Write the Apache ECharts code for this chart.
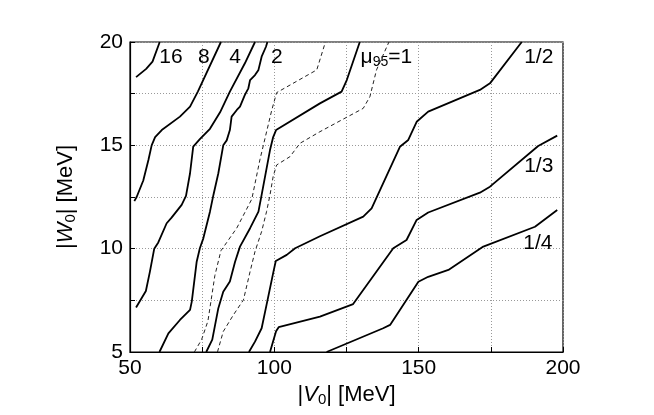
<!DOCTYPE html>
<html>
<head>
<meta charset="utf-8">
<script src="https://cdn.jsdelivr.net/npm/echarts@6/dist/echarts.min.js"></script>
<style>
  html, body { margin: 0; padding: 0; background: #fff; }
  #chart { width: 654px; height: 415px; }
</style>
</head>
<body>
<div id="chart"></div>
<script>
// contour lines, [|V0|, |W0|] in MeV
var c16 = [[52.1, 18.3], [55.6, 18.7], [57.8, 19.05], [60.3, 20]];
var c8 = [[51.5, 12.3], [52.3, 12.5], [54.6, 13.3], [56.4, 14.3], [57.5, 15.0], [58.7, 15.4],
	[61.0, 15.74], [67.3, 16.39], [70.8, 16.87], [73.5, 17.6], [81.5, 20]];
var c4 = [[52.1, 7.15], [55.5, 7.95], [56.9, 8.89], [58.4, 10.0], [59.8, 10.3], [62.7, 11.23],
	[64.4, 11.5], [67.9, 12.12], [69.4, 12.55], [70.8, 13.65], [71.9, 14.94], [74.2, 15.3],
	[77.7, 15.8], [81.2, 16.6], [84.6, 17.6], [89.8, 18.97], [93.3, 20]];
var c2 = [[60.2, 5.0], [63.3, 5.9], [67.3, 6.55], [70.8, 7.04], [71.4, 7.44], [73.1, 9.37],
	[74.2, 10.02], [75.4, 10.5], [77.7, 11.79], [78.9, 12.6], [80.6, 13.65], [82.3, 15.0],
	[83.5, 15.24], [84.6, 15.74], [85.2, 16.39], [87.0, 16.71], [88.1, 16.87], [89.8, 17.44],
	[91.0, 17.76], [91.6, 18.16], [93.3, 18.4], [94.5, 18.65], [95.6, 19.29], [97.1, 19.77], [97.6, 20]];
var c1 = [[76.4, 5.0], [78.5, 5.6], [80.6, 7.12], [82.3, 7.92], [84.6, 8.41], [86.4, 9.37],
	[88.1, 10.1], [91.6, 10.99], [94.5, 11.79], [95.6, 12.6], [98.5, 14.77], [99.6, 15.4],
	[100.6, 15.74], [115.8, 17.03], [123.3, 17.6], [125.1, 18.16], [129.6, 20]];
var c1lo = [[72.3, 5.0], [74.8, 5.6], [77.0, 6.5], [79.4, 8.7], [81.5, 9.9], [83.5, 10.3],
	[87.0, 11.0], [92.2, 12.4], [95.0, 14.3], [99.1, 16.7], [100.8, 17.55], [114.7, 18.65], [117.7, 20]];
var c1hi = [[80.3, 5.0], [82.3, 5.99], [85.8, 6.79], [89.3, 7.52], [91.6, 8.89], [93.3, 9.86],
	[95.6, 10.83], [97.3, 11.79], [98.5, 12.6], [99.6, 13.5], [100.8, 14.05], [105.4, 14.45],
	[108.9, 15.1], [115.8, 15.66], [130.8, 16.79], [133.1, 17.35], [135.4, 18.65], [139.7, 20]];
var cHalf = [[91.2, 5.0], [93.3, 5.5], [95.6, 6.15], [97.3, 7.28], [99.7, 8.89], [100.5, 9.4],
	[104.3, 9.7], [107.2, 10.02], [115.8, 10.6], [130.8, 11.55], [133.7, 11.95], [143.5, 14.93],
	[146.4, 15.26], [149.3, 16.14], [153.3, 16.63], [171.2, 17.68], [174.7, 18.0], [185.7, 20]];
var cThird = [[98.5, 5.0], [100.6, 6.0], [101.5, 6.2], [115.8, 6.71], [127.3, 7.32], [141.2, 10.02],
	[145.8, 10.42], [149.3, 11.39], [153.3, 11.75], [171.2, 12.71], [174.7, 13.0], [191.4, 14.97], [198, 15.47]];
var cQuarter = [[118.1, 5.0], [137.7, 6.15], [140.1, 6.31], [149.9, 8.4], [153.3, 8.64], [160.3, 8.97],
	[172.4, 10.1], [190.3, 11.06], [198, 11.87]];

var labelText = ['16', '8', '4', '2', 'mu', '1/2', '1/3', '1/4'];
var labelAt = [[64.2, 19.25], [75.6, 19.25], [86.4, 19.25], [100.9, 19.25], [138.8, 19.25],
	[191.6, 19.25], [191.6, 14.0], [191.3, 10.28]];

var font = 'Liberation Sans, Arial, Helvetica, sans-serif';

var chart = echarts.init(document.getElementById('chart'));

function solid(d) {
	return {
		type: 'line', data: d, showSymbol: false, silent: true, animation: false,
		lineStyle: { color: '#000', width: 1.8 }
	};
}
function dashed(d) {
	return {
		type: 'line', data: d, showSymbol: false, silent: true, animation: false,
		lineStyle: { color: '#222', width: 1, type: [4, 3] }
	};
}

var labels = [];
for (var i = 0; i < labelText.length; i++) {
	labels.push({ name: labelText[i], value: labelAt[i] });
}

var subStyle = { fontSize: 15, fontFamily: font, color: '#000', padding: [10, 0, 0, 0] };

var option = {
	animation: false,
	grid: { left: 130, right: 91, top: 42, bottom: 63, show: true, borderColor: '#000', borderWidth: 1.2 },
	xAxis: {
		type: 'value', min: 50, max: 200, interval: 25,
		name: '|{i|V}{s|0}| [MeV]', nameLocation: 'middle', nameGap: 29,
		nameTextStyle: {
			fontSize: 22, fontFamily: font, color: '#000',
			rich: { i: { fontSize: 22, fontStyle: 'italic', fontFamily: font, color: '#000' }, s: subStyle }
		},
		axisLine: { lineStyle: { color: '#000', width: 1.2 } },
		axisTick: { inside: true, length: 5, lineStyle: { color: '#000' } },
		axisLabel: {
			fontSize: 21, fontFamily: font, color: '#000', margin: 6,
			formatter: function (v) { return v % 50 === 0 ? v : ''; }
		},
		splitLine: { show: true, lineStyle: { color: '#999', type: [1, 2] } }
	},
	yAxis: {
		type: 'value', min: 5, max: 20, interval: 2.5,
		name: '|{i|W}{s|0}| [MeV]', nameLocation: 'middle', nameGap: 52,
		nameTextStyle: {
			fontSize: 22, fontFamily: font, color: '#000',
			rich: { i: { fontSize: 22, fontStyle: 'italic', fontFamily: font, color: '#000' }, s: subStyle }
		},
		axisLine: { lineStyle: { color: '#000', width: 1.2 } },
		axisTick: { inside: true, length: 5, lineStyle: { color: '#000' } },
		axisLabel: {
			fontSize: 21, fontFamily: font, color: '#000', margin: 7,
			formatter: function (v) { return v % 5 === 0 ? v : ''; }
		},
		splitLine: { show: true, lineStyle: { color: '#999', type: [1, 2] } }
	},
	series: [
		solid(c16), solid(c8), solid(c4), solid(c2), solid(c1),
		dashed(c1lo), dashed(c1hi),
		solid(cHalf), solid(cThird), solid(cQuarter),
		{
			type: 'scatter', data: labels, symbolSize: 0, silent: true,
			itemStyle: { color: '#000', opacity: 1 },
			label: {
				show: true, position: 'inside', fontSize: 21, fontFamily: font, color: '#000',
				textBorderWidth: 0,
				formatter: function (p) {
					return p.name === 'mu' ? '{m|\u03bc}{s|95}{m|=1}' : p.name;
				},
				rich: {
					m: { fontSize: 21, fontFamily: font, color: '#000' },
					s: { fontSize: 14, fontFamily: font, color: '#000', padding: [10, 0, 0, 0] }
				}
			}
		}
	]
};

chart.setOption(option);
</script>
</body>
</html>
